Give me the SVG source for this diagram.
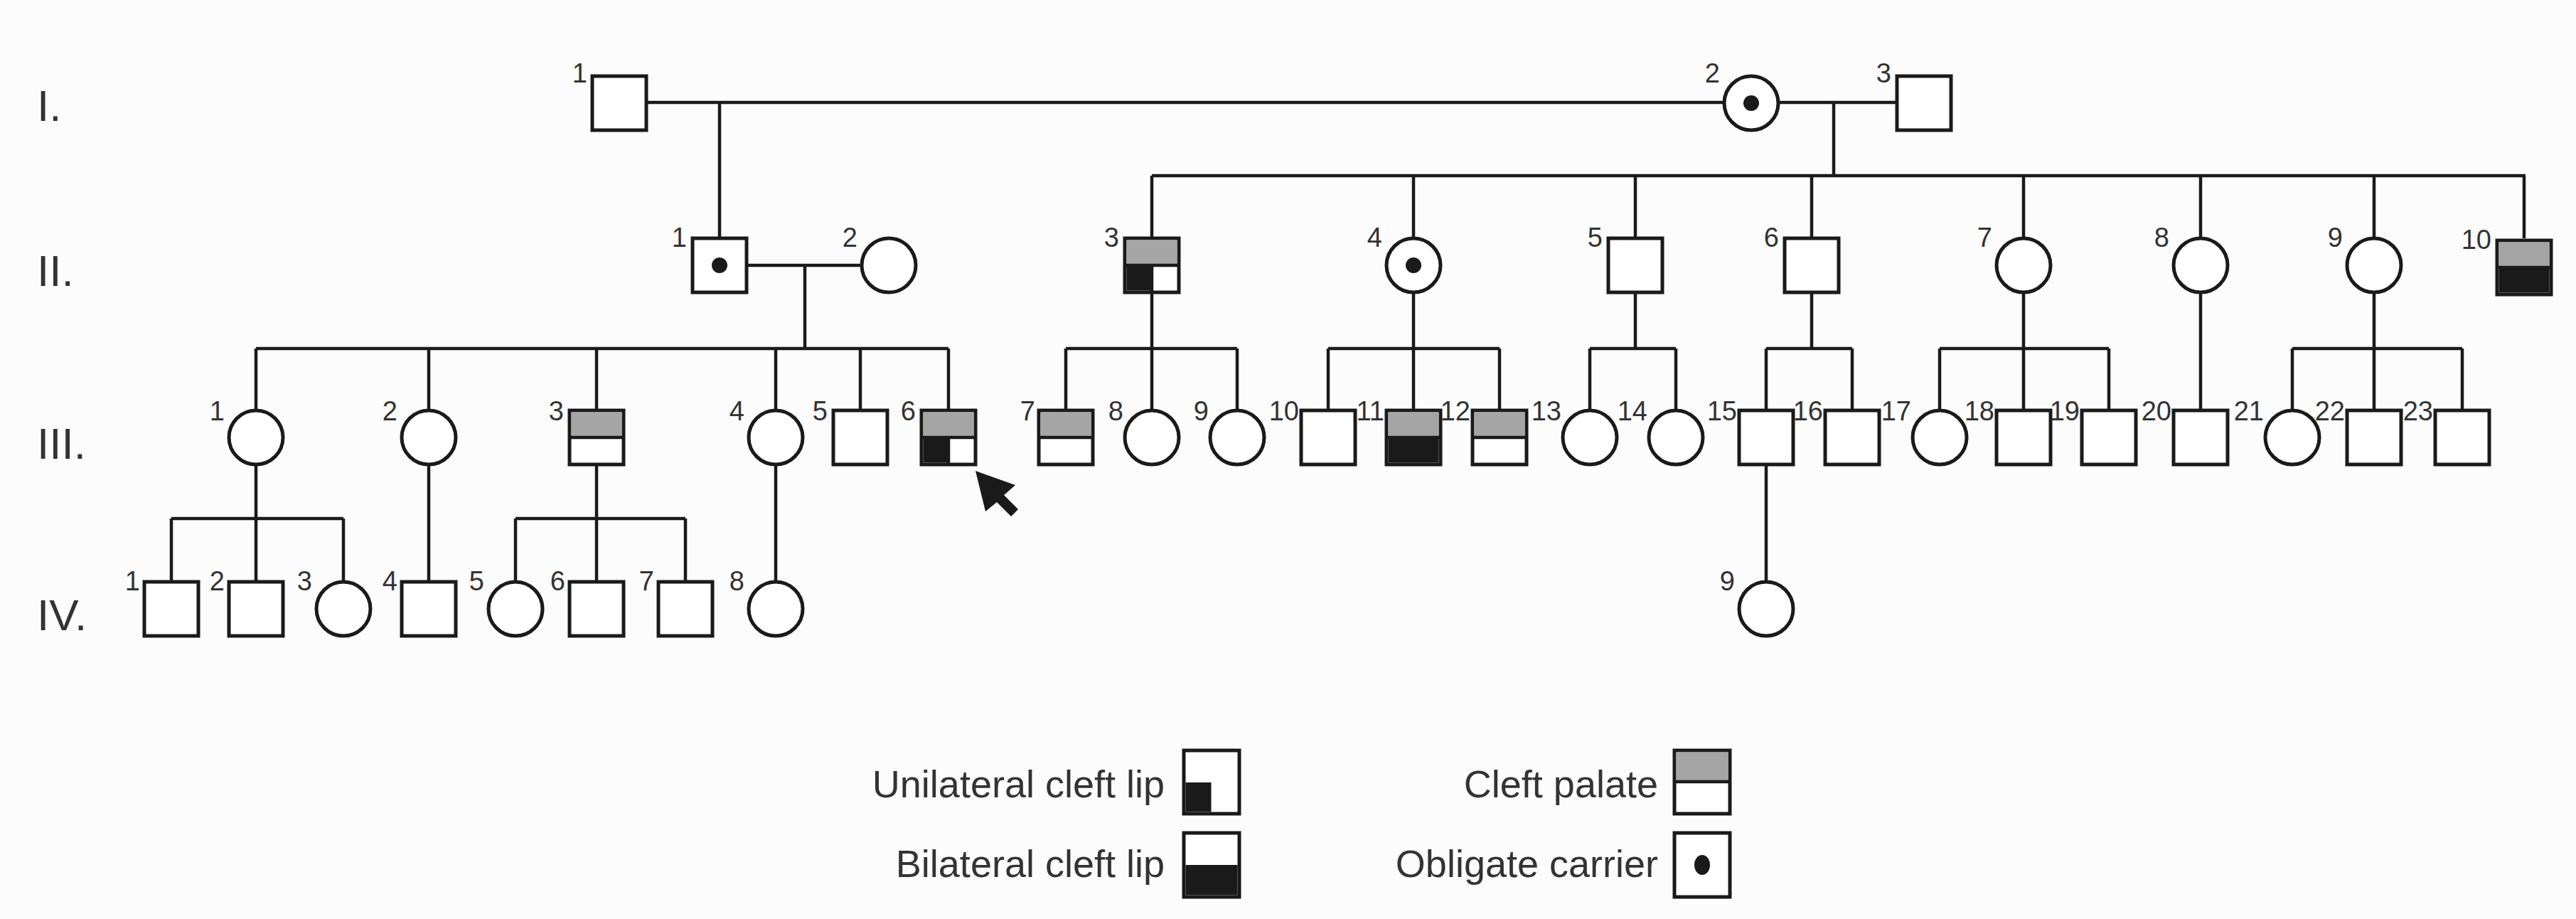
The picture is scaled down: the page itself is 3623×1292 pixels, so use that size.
<svg xmlns="http://www.w3.org/2000/svg" width="3623" height="1292" viewBox="0 0 3623 1292">
<style>
.s{fill:#fff;stroke:#1a1a1a;stroke-width:5}
.g{fill:#a5a5a5}
.b{fill:#1a1a1a}
.d{stroke:#1a1a1a;stroke-width:4.5;fill:none}
.n{font-family:"Liberation Sans",Arial,sans-serif;font-size:38px;fill:#333;text-anchor:end}
.gen{font-family:"Liberation Sans",Arial,sans-serif;font-size:62px;fill:#333}
.lg{font-family:"Liberation Sans",Arial,sans-serif;font-size:54px;fill:#333;text-anchor:end}
</style>
<rect width="3623" height="1292" fill="#fcfcfc"/>
<g id="gen-labels">
<text class="gen" x="52" y="170">I.</text>
<text class="gen" x="52" y="402">II.</text>
<text class="gen" x="52" y="645">III.</text>
<text class="gen" x="52" y="886">IV.</text>
</g>
<g id="connectors" class="d">
<path d="M909 144H2425M2501 144H2668M1012 144V335"/>
<path d="M2579 144V247M1620 247H3552M1620 247V335M1988 247V335M2300 247V335M2548 247V335M2846 247V335M3095 247V335M3339 247V335M3550 247V335"/>
<path d="M1050 373H1212M1132 373V490M360 490H1334M360 490V577M603 490V577M839 490V577M1091 490V577M1210 490V577M1334 490V577"/>
<path d="M1620 411V490M1499 490H1740M1499 490V577M1620 490V577M1740 490V577"/>
<path d="M1988 411V490M1868 490H2109M1868 490V577M1988 490V577M2109 490V577"/>
<path d="M2300 411V490M2236 490H2357M2236 490V577M2357 490V577"/>
<path d="M2548 411V490M2484 490H2605M2484 490V577M2605 490V577"/>
<path d="M2846 411V490M2728 490H2966M2728 490V577M2846 490V577M2966 490V577"/>
<path d="M3095 411V577"/>
<path d="M3339 411V490M3224 490H3463M3224 490V577M3339 490V577M3463 490V577"/>
<path d="M360 653V729M241 729H483M241 729V818M360 729V818M483 729V818"/>
<path d="M603 653V818M1091 653V818M2484 653V818"/>
<path d="M839 653V729M725 729H964M725 729V818M839 729V818M964 729V818"/>
</g>
<!-- Generation I -->
<g id="I-1"><rect class="s" x="833" y="107" width="76" height="76"/><text class="n" x="826" y="116">1</text></g>
<g id="I-2"><circle class="s" cx="2463" cy="145" r="38"/><circle class="b" cx="2463" cy="145" r="11"/><text class="n" x="2419" y="116">2</text></g>
<g id="I-3"><rect class="s" x="2668" y="107" width="76" height="76"/><text class="n" x="2660" y="116">3</text></g>
<!-- Generation II -->
<g id="II-1"><rect class="s" x="974" y="335" width="76" height="76"/><circle class="b" cx="1012" cy="373" r="11"/><text class="n" x="966" y="347">1</text></g>
<g id="II-2"><circle class="s" cx="1250" cy="373" r="38"/><text class="n" x="1206" y="347">2</text></g>
<g id="II-3"><rect class="s" x="1582" y="335" width="76" height="76"/><rect class="g" x="1584.5" y="337.5" width="71" height="34"/><rect class="b" x="1584.5" y="373" width="35.5" height="35.5"/><path class="d" d="M1582 373H1658M1620 373V411"/><text class="n" x="1574" y="347">3</text></g>
<g id="II-4"><circle class="s" cx="1988" cy="373" r="38"/><circle class="b" cx="1988" cy="373" r="11"/><text class="n" x="1944" y="347">4</text></g>
<g id="II-5"><rect class="s" x="2262" y="335" width="76" height="76"/><text class="n" x="2254" y="347">5</text></g>
<g id="II-6"><rect class="s" x="2510" y="335" width="76" height="76"/><text class="n" x="2502" y="347">6</text></g>
<g id="II-7"><circle class="s" cx="2846" cy="373" r="38"/><text class="n" x="2802" y="347">7</text></g>
<g id="II-8"><circle class="s" cx="3095" cy="373" r="38"/><text class="n" x="3051" y="347">8</text></g>
<g id="II-9"><circle class="s" cx="3339" cy="373" r="38"/><text class="n" x="3295" y="347">9</text></g>
<g id="II-10"><rect class="s" x="3512" y="338" width="76" height="76"/><rect class="g" x="3514.5" y="340.5" width="71" height="34"/><rect class="b" x="3514.5" y="376" width="71" height="35.5"/><path class="d" d="M3512 376H3588"/><text class="n" x="3504" y="350">10</text></g>
<!-- Generation III -->
<g id="III-1"><circle class="s" cx="360" cy="615" r="38"/><text class="n" x="316" y="591">1</text></g>
<g id="III-2"><circle class="s" cx="603" cy="615" r="38"/><text class="n" x="559" y="591">2</text></g>
<g id="III-3"><rect class="s" x="801" y="577" width="76" height="76"/><rect class="g" x="803.5" y="579.5" width="71" height="34"/><path class="d" d="M801 615H877"/><text class="n" x="793" y="591">3</text></g>
<g id="III-4"><circle class="s" cx="1091" cy="615" r="38"/><text class="n" x="1047" y="591">4</text></g>
<g id="III-5"><rect class="s" x="1172" y="577" width="76" height="76"/><text class="n" x="1164" y="591">5</text></g>
<g id="III-6"><rect class="s" x="1296" y="577" width="76" height="76"/><rect class="g" x="1298.5" y="579.5" width="71" height="34"/><rect class="b" x="1298.5" y="615" width="35.5" height="35.5"/><path class="d" d="M1296 615H1372M1334 615V653"/><text class="n" x="1288" y="591">6</text></g>
<g id="III-7"><rect class="s" x="1461" y="577" width="76" height="76"/><rect class="g" x="1463.5" y="579.5" width="71" height="34"/><path class="d" d="M1461 615H1537"/><text class="n" x="1456" y="591">7</text></g>
<g id="III-8"><circle class="s" cx="1620" cy="615" r="38"/><text class="n" x="1580" y="591">8</text></g>
<g id="III-9"><circle class="s" cx="1740" cy="615" r="38"/><text class="n" x="1700" y="591">9</text></g>
<g id="III-10"><rect class="s" x="1830" y="577" width="76" height="76"/><text class="n" x="1827" y="591">10</text></g>
<g id="III-11"><rect class="s" x="1950" y="577" width="76" height="76"/><rect class="g" x="1952.5" y="579.5" width="71" height="34"/><rect class="b" x="1952.5" y="615" width="71" height="35.5"/><path class="d" d="M1950 615H2026"/><text class="n" x="1947" y="591">11</text></g>
<g id="III-12"><rect class="s" x="2071" y="577" width="76" height="76"/><rect class="g" x="2073.5" y="579.5" width="71" height="34"/><path class="d" d="M2071 615H2147"/><text class="n" x="2068" y="591">12</text></g>
<g id="III-13"><circle class="s" cx="2236" cy="615" r="38"/><text class="n" x="2196" y="591">13</text></g>
<g id="III-14"><circle class="s" cx="2357" cy="615" r="38"/><text class="n" x="2317" y="591">14</text></g>
<g id="III-15"><rect class="s" x="2446" y="577" width="76" height="76"/><text class="n" x="2443" y="591">15</text></g>
<g id="III-16"><rect class="s" x="2567" y="577" width="76" height="76"/><text class="n" x="2564" y="591">16</text></g>
<g id="III-17"><circle class="s" cx="2728" cy="615" r="38"/><text class="n" x="2688" y="591">17</text></g>
<g id="III-18"><rect class="s" x="2808" y="577" width="76" height="76"/><text class="n" x="2805" y="591">18</text></g>
<g id="III-19"><rect class="s" x="2928" y="577" width="76" height="76"/><text class="n" x="2925" y="591">19</text></g>
<g id="III-20"><rect class="s" x="3057" y="577" width="76" height="76"/><text class="n" x="3054" y="591">20</text></g>
<g id="III-21"><circle class="s" cx="3224" cy="615" r="38"/><text class="n" x="3184" y="591">21</text></g>
<g id="III-22"><rect class="s" x="3301" y="577" width="76" height="76"/><text class="n" x="3298" y="591">22</text></g>
<g id="III-23"><rect class="s" x="3425" y="577" width="76" height="76"/><text class="n" x="3422" y="591">23</text></g>
<!-- Generation IV -->
<g id="IV-1"><rect class="s" x="203" y="818" width="76" height="76"/><text class="n" x="197" y="830">1</text></g>
<g id="IV-2"><rect class="s" x="322" y="818" width="76" height="76"/><text class="n" x="316" y="830">2</text></g>
<g id="IV-3"><circle class="s" cx="483" cy="856" r="38"/><text class="n" x="439" y="830">3</text></g>
<g id="IV-4"><rect class="s" x="565" y="818" width="76" height="76"/><text class="n" x="559" y="830">4</text></g>
<g id="IV-5"><circle class="s" cx="725" cy="856" r="38"/><text class="n" x="681" y="830">5</text></g>
<g id="IV-6"><rect class="s" x="801" y="818" width="76" height="76"/><text class="n" x="795" y="830">6</text></g>
<g id="IV-7"><rect class="s" x="926" y="818" width="76" height="76"/><text class="n" x="920" y="830">7</text></g>
<g id="IV-8"><circle class="s" cx="1091" cy="856" r="38"/><text class="n" x="1047" y="830">8</text></g>
<g id="IV-9"><circle class="s" cx="2484" cy="856" r="38"/><text class="n" x="2440" y="830">9</text></g>
<g id="proband-arrow">
<path class="b" d="M1372 662L1428 682L1412 696L1432 716L1422 726L1402 706L1386 719Z"/>
</g>
<g id="legend">
<text class="lg" x="1638" y="1121">Unilateral cleft lip</text>
<rect class="s" x="1665" y="1055" width="78" height="89"/><rect class="b" x="1667.5" y="1100" width="36" height="41.5"/>
<text class="lg" x="1638" y="1233">Bilateral cleft lip</text>
<rect class="s" x="1665" y="1171" width="78" height="90"/><rect class="b" x="1667.5" y="1216" width="73" height="42.5"/>
<text class="lg" x="2332" y="1121">Cleft palate</text>
<rect class="s" x="2355" y="1055" width="78" height="89"/><rect class="g" x="2357.5" y="1057.5" width="73" height="40"/><path class="d" d="M2355 1099H2433"/>
<text class="lg" x="2332" y="1233">Obligate carrier</text>
<rect class="s" x="2355" y="1171" width="78" height="90"/><ellipse class="b" cx="2394" cy="1216" rx="11" ry="14"/>
</g>
</svg>
